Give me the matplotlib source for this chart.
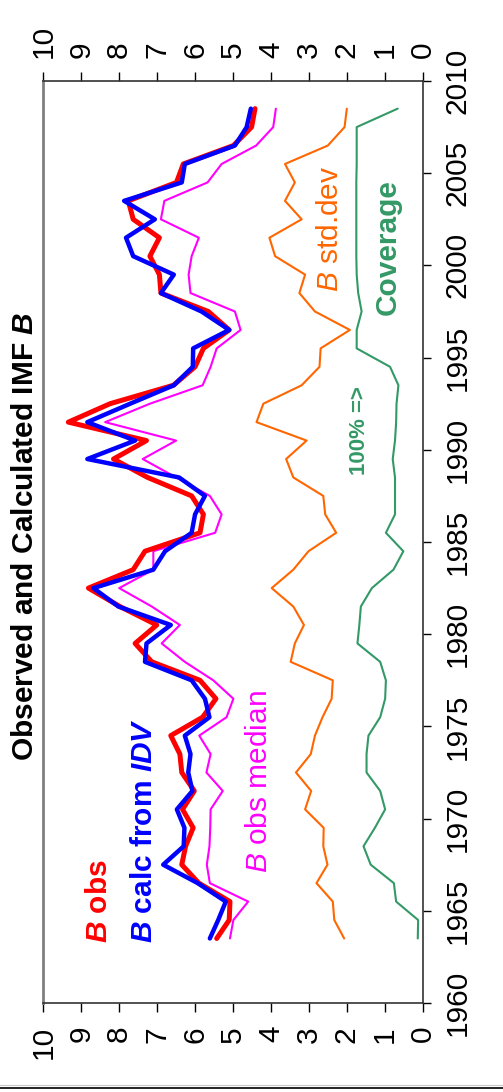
import numpy as np
import matplotlib
matplotlib.use('Agg')
import matplotlib.pyplot as plt
from matplotlib.lines import Line2D

plt.rcParams['font.family'] = ['Liberation Sans', 'DejaVu Sans']
plt.rcParams['mathtext.fontset'] = 'custom'
plt.rcParams['mathtext.rm'] = 'Liberation Sans'
plt.rcParams['mathtext.it'] = 'Liberation Sans:italic'
plt.rcParams['mathtext.bf'] = 'Liberation Sans:bold'
plt.rcParams['mathtext.bfit'] = 'Liberation Sans:italic:bold'

# annual values, 1963 .. 2008 (plotted at mid-year)
years = np.arange(1963, 2009)

b_obs = [5.43, 5.10, 5.08, 5.90, 6.35, 6.25, 6.05, 6.33, 6.02, 6.35,
         6.40, 6.64, 5.80, 5.45, 5.87, 7.14, 7.58, 7.01, 7.98, 8.81,
         7.63, 7.32, 5.87, 5.78, 6.09, 7.25, 8.15, 7.28, 9.34, 8.24,
         6.57, 6.00, 5.78, 5.10, 5.65, 6.90, 6.94, 7.19, 6.94, 7.63,
         7.76, 6.49, 6.31, 4.99, 4.51, 4.42]

b_calc = [5.61, 5.39, 5.19, 5.93, 6.84, 6.30, 6.28, 6.48, 6.07, 6.18,
          6.12, 6.27, 5.62, 5.74, 6.09, 7.32, 7.28, 6.64, 8.02, 8.68,
          7.10, 6.79, 6.09, 6.00, 5.74, 6.42, 8.84, 7.58, 8.84, 7.71,
          6.56, 6.06, 6.05, 5.10, 5.83, 6.90, 6.56, 7.63, 7.82, 7.06,
          7.87, 6.35, 6.27, 4.95, 4.64, 4.53]

b_median = [5.08, 4.99, 4.60, 5.61, 5.69, 5.62, 5.60, 5.59, 5.27, 5.70,
            5.59, 5.89, 5.17, 4.99, 5.52, 6.27, 6.88, 6.40, 7.14, 8.00,
            7.10, 7.10, 5.47, 5.30, 5.61, 6.50, 7.38, 6.50, 8.37, 7.19,
            5.80, 5.59, 5.43, 4.80, 4.95, 6.12, 6.17, 6.09, 5.90, 6.90,
            6.81, 5.67, 5.30, 4.39, 3.94, 3.87]

b_std = [2.07, 2.33, 2.37, 2.80, 2.51, 2.62, 2.61, 3.10, 2.94, 3.34,
         2.95, 2.84, 2.64, 2.40, 2.37, 3.48, 3.37, 3.13, 3.41, 3.98,
         3.41, 3.01, 2.28, 2.57, 2.62, 3.41, 3.60, 3.06, 4.38, 4.20,
         3.19, 2.72, 2.69, 1.92, 2.84, 3.25, 3.10, 3.89, 4.04, 3.19,
         3.63, 3.37, 3.63, 2.50, 2.06, 2.00]

coverage = [0.13, 0.12, 0.70, 0.76, 1.37, 1.56, 1.26, 0.99, 1.12, 1.48,
            1.48, 1.43, 1.12, 0.99, 0.97, 1.12, 1.72, 1.67, 1.63, 1.34,
            0.77, 0.51, 0.97, 0.73, 0.73, 0.73, 0.79, 0.73, 0.70, 0.69,
            0.64, 0.86, 1.74, 1.74, 1.61, 1.70, 1.74, 1.75, 1.75, 1.75,
            1.75, 1.75, 1.74, 1.74, 1.74, 0.66]

value_ticks = list(range(0, 11))
year_ticks = list(range(1960, 2011, 5))

fig = plt.figure(figsize=(5.03, 10.92), dpi=100)
ax = fig.add_axes([43.3 / 503, 89 / 1092, 379.4 / 503, 922 / 1092])

t = years + 0.5
rnd = dict(solid_capstyle='round', solid_joinstyle='round')
ax.plot(coverage, t, color='#339966', lw=1.5, **rnd)
ax.plot(b_std, t, color='#FF6600', lw=1.5, **rnd)
ax.plot(b_median, t, color='#FF00FF', lw=1.5, **rnd)
ax.plot(b_obs, t, color='#FF0000', lw=3.6, **rnd)
ax.plot(b_calc, t, color='#0000FF', lw=3.2, **rnd)

ax.set_xlim(10, 0)
ax.set_ylim(1960, 2010)
ax.set_xticks(value_ticks)
ax.set_yticks(year_ticks)

ax.tick_params(axis='x', bottom=True, top=True, labelbottom=True, labeltop=True,
               direction='out', length=6.5, width=1, labelsize=21.5, pad=10,
               labelrotation=90)
ax.tick_params(axis='y', left=False, right=True, labelleft=False, labelright=True,
               direction='out', length=6, width=1, labelsize=21.5, pad=9,
               labelrotation=90)
for lab in ax.get_yticklabels():
    lab.set_va('center')

ax.spines['left'].set_color('#808080')
ax.spines['left'].set_linewidth(2.0)
for s in ('top', 'right', 'bottom'):
    ax.spines[s].set_color('#333333')
    ax.spines[s].set_linewidth(1.2)

# curve labels, written sideways like everything else
lbl = dict(rotation=90, rotation_mode='anchor', ha='left', va='baseline', fontsize=21.5)
ax.text(8.32, 1963.25, r'$\mathbfit{B}$ obs', color='#FF0000', fontweight='bold', **lbl)
ax.text(7.13, 1963.25, r'$\mathbfit{B}$ calc from $\mathbfit{IDV}$', color='#0000FF',
        fontweight='bold', **lbl)
ax.text(4.10, 1967.05, r'$\mathit{B}$ obs median', color='#FF00FF', **lbl)
ax.text(2.23, 1998.56, r'$\mathit{B}$ std.dev', color='#FF6600', **lbl)
ax.text(0.70, 1997.31, 'Coverage', color='#339966', fontweight='bold', **lbl)
lbl['fontsize'] = 16
ax.text(1.52, 1988.63, '100% =>', color='#339966', fontweight='bold', **lbl)

fig.text(33.3 / 503, 1 - 536 / 1092, r'Observed and Calculated IMF $\mathbfit{B}$',
         rotation=90, rotation_mode='anchor', ha='center', va='baseline',
         fontsize=21.5, fontweight='bold')

# page edge at the bottom
fig.add_artist(Line2D([0, 1], [1 - 1085 / 1092] * 2, transform=fig.transFigure,
                      color='#c8c8c8', lw=0.8))
fig.add_artist(Line2D([0, 1], [1 - 1087.5 / 1092] * 2, transform=fig.transFigure,
                      color='#000000', lw=1.2))

fig.savefig('out.png', dpi=100)
